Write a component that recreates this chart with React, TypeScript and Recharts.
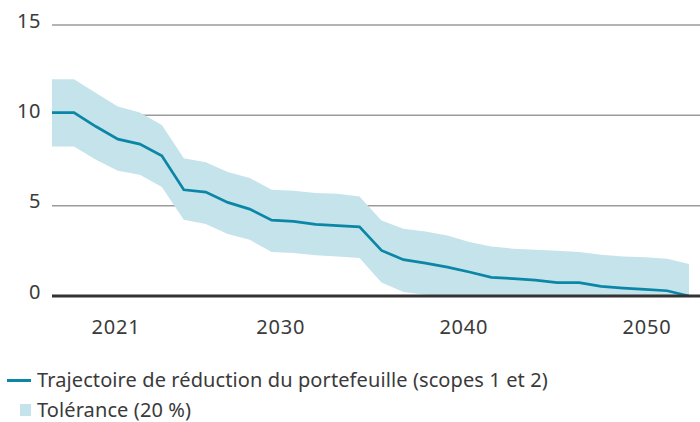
import { ComposedChart, Area, Line, XAxis, YAxis, CartesianGrid } from "recharts";

// Decarbonisation trajectory of the portfolio with its tolerance band
const years = [
  2017.5, 2018.7, 2019.9, 2021.1, 2022.3, 2023.5, 2024.7, 2025.9, 2027.1, 2028.3,
  2029.5, 2030.7, 2031.9, 2033.1, 2034.3, 2035.5, 2036.7, 2037.9, 2039.1, 2040.3,
  2041.5, 2042.7, 2043.9, 2045.1, 2046.3, 2047.5, 2048.7, 2049.9, 2051.1, 2052.3,
];
const trajectory = [
  10.15, 10.15, 9.38, 8.68, 8.41, 7.76, 5.88, 5.75, 5.18, 4.81,
  4.2, 4.13, 3.96, 3.9, 3.83, 2.52, 2.01, 1.82, 1.6, 1.33,
  1.03, 0.96, 0.88, 0.74, 0.74, 0.53, 0.44, 0.37, 0.29, 0.0,
];
const toleranceHigh = [
  12.0, 12.0, 11.23, 10.49, 10.15, 9.47, 7.63, 7.41, 6.86, 6.53,
  5.88, 5.82, 5.7, 5.66, 5.51, 4.18, 3.72, 3.57, 3.35, 2.99,
  2.74, 2.62, 2.56, 2.51, 2.43, 2.28, 2.19, 2.14, 2.06, 1.77,
];
const toleranceLow = [
  8.27, 8.27, 7.54, 6.93, 6.71, 6.03, 4.22, 3.98, 3.43, 3.11,
  2.43, 2.38, 2.25, 2.19, 2.1, 0.75, 0.22, 0.07, 0.03, 0.02,
  0.01, 0, 0, 0, 0, 0, 0, 0, 0, 0,
];
const xTicks = [2021, 2030, 2040, 2050];
const yTicks = [0, 5, 10, 15];
const seriesNames = [
  "Trajectoire de réduction du portefeuille (scopes 1 et 2)",
  "Tolérance (20 %)",
];

const LINE_COLOR = "#0a87a6";
const BAND_COLOR = "#c5e3ea";
const TEXT_COLOR = "#3a3a3a";
const FONT = "'Noto Sans', sans-serif";

const data = years.map((year, i) => ({
  year,
  trajectory: trajectory[i],
  tolerance: [toleranceLow[i], toleranceHigh[i]],
}));

function YTick(props: any) {
  const { x, y, payload } = props;
  return (
    <text x={x} y={y - 5} textAnchor="end" dominantBaseline="central" fill={TEXT_COLOR} fontSize={20} letterSpacing={0.6} fontFamily={FONT}>
      {payload.value}
    </text>
  );
}

function XTick(props: any) {
  const { x, y, payload } = props;
  return (
    <text x={x} y={y + 22} textAnchor="middle" dominantBaseline="central" fill={TEXT_COLOR} fontSize={20} letterSpacing={0.8} fontFamily={FONT}>
      {payload.value}
    </text>
  );
}

function Legend() {
  const text = { position: "absolute" as const, left: 37, fontSize: 20, color: TEXT_COLOR, fontFamily: FONT, lineHeight: "24px", whiteSpace: "nowrap" as const, letterSpacing: 0.1 };
  return (
    <>
      <div style={{ position: "absolute", left: 7, top: 379, width: 24, height: 3, background: LINE_COLOR }} />
      <div style={{ ...text, top: 368 }}>{seriesNames[0]}</div>
      <div style={{ position: "absolute", left: 20, top: 404, width: 11, height: 12, background: BAND_COLOR }} />
      <div style={{ ...text, top: 398 }}>{seriesNames[1]}</div>
    </>
  );
}

export default function App() {
  return (
    <div style={{ position: "absolute", left: 0, top: 0, width: 700, height: 422, background: "#fff" }}>
      <ComposedChart width={700} height={345} data={data} margin={{ top: 25, right: 0, bottom: 19, left: 0 }}>
        <CartesianGrid vertical={false} stroke="#9b9b9b" strokeWidth={1.5} />
        <XAxis
          dataKey="year"
          type="number"
          domain={[2017.5, 2052.9]}
          ticks={xTicks}
          height={30}
          tickLine={false}
          axisLine={{ stroke: "#333", strokeWidth: 3 }}
          tick={<XTick />}
        />
        <YAxis
          domain={[0, 15]}
          ticks={yTicks}
          width={52}
          tickLine={false}
          axisLine={false}
          tickSize={0}
          tickMargin={11}
          tick={<YTick />}
        />
        <Area
          dataKey="tolerance"
          type="linear"
          stroke="none"
          fill={BAND_COLOR}
          fillOpacity={1}
          isAnimationActive={false}
        />
        <Line
          dataKey="trajectory"
          type="linear"
          stroke={LINE_COLOR}
          strokeWidth={2.7}
          dot={false}
          isAnimationActive={false}
        />
      </ComposedChart>
      <Legend />
    </div>
  );
}
